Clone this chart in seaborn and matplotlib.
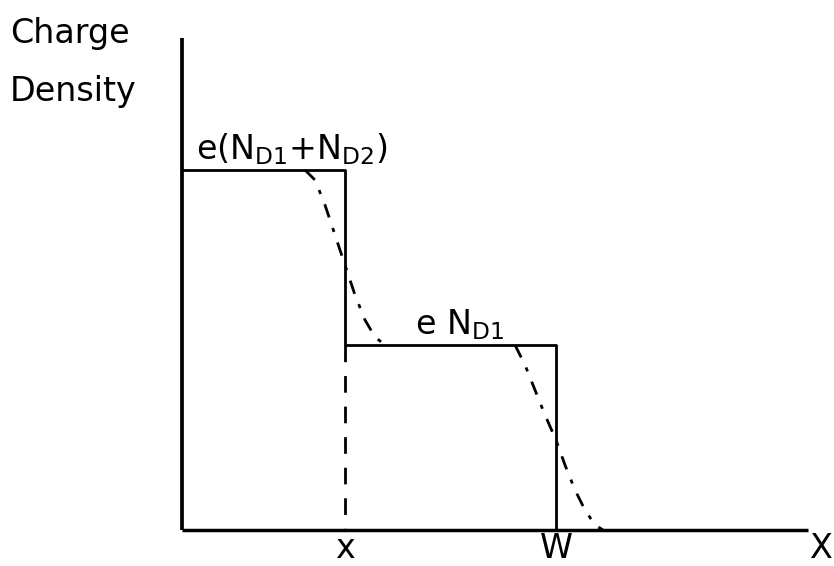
import numpy as np
import pandas as pd
import matplotlib
matplotlib.use("Agg")
import matplotlib.pyplot as plt
import seaborn as sns

sns.set_theme(style="white")
plt.rcParams['font.family'] = ['DejaVu Sans']
plt.rcParams['text.color'] = 'black'

# Abrupt (step) profile
step_x = [0.0, 1.63, 1.63, 3.74, 3.74]
step_y = [3.60, 3.60, 1.85, 1.85, 0.0]
# dashed projection of x
proj_x = [1.63, 1.63]
proj_y = [1.85, 0.0]
# graded profile near x
curve1_x = [1.23, 1.33, 1.43, 1.53, 1.63, 1.73, 1.83, 1.93, 2.03]
curve1_y = [3.60, 3.50, 3.25, 2.95, 2.65, 2.35, 2.10, 1.93, 1.85]
# graded profile near W
curve2_x = [3.33, 3.43, 3.53, 3.63, 3.74, 3.83, 3.93, 4.03, 4.13, 4.21]
curve2_y = [1.85, 1.65, 1.40, 1.15, 0.90, 0.65, 0.40, 0.20, 0.05, 0.0]

tick_labels = ["x", "W"]
tick_pos = [1.63, 3.74]

fig = plt.figure(figsize=(8.34, 5.66), dpi=100)
ax = fig.add_axes([0, 0, 1, 1])
ax.set_xlim(-1.82, 6.52)
ax.set_ylim(-0.36, 5.30)

sns.lineplot(x=step_x, y=step_y, sort=False, estimator=None, color="black",
             linewidth=2.0, ax=ax)
sns.lineplot(x=proj_x, y=proj_y, sort=False, estimator=None, color="black",
             linewidth=2.0, ax=ax)
ax.lines[-1].set_linestyle((0, (6, 5)))
sns.lineplot(x=curve1_x, y=curve1_y, sort=False, estimator=None, color="black",
             linewidth=2.0, ax=ax)
ax.lines[-1].set_linestyle((0, (5, 4, 1.5, 4)))
sns.lineplot(x=curve2_x, y=curve2_y, sort=False, estimator=None, color="black",
             linewidth=2.0, ax=ax)
ax.lines[-1].set_linestyle((0, (5, 4, 1.5, 4)))

# axes
ax.plot([0, 0], [0, 4.92], color="black", linewidth=2.7, solid_capstyle="butt")
ax.plot([0, 6.26], [0, 0], color="black", linewidth=2.5, solid_capstyle="butt")

for s in ax.spines.values():
    s.set_visible(False)
ax.set_xticks([])
ax.set_yticks([])

fs = 24
ax.text(-1.72, 4.97, "Charge", fontsize=fs, ha="left", va="center")
ax.text(-1.72, 4.38, "Density", fontsize=fs, ha="left", va="center")
ax.text(0.14, 3.63, r"e(N$_{\mathrm{D1}}$+N$_{\mathrm{D2}}$)", fontsize=fs,
        ha="left", va="bottom")
ax.text(2.33, 1.88, r"e N$_{\mathrm{D1}}$", fontsize=fs, ha="left", va="bottom")
for lbl, p in zip(tick_labels, tick_pos):
    ax.text(p, -0.18, lbl, fontsize=fs, ha="center", va="center")
ax.text(6.51, -0.18, "X", fontsize=fs, ha="right", va="center")

fig.savefig("out.png", dpi=100)
